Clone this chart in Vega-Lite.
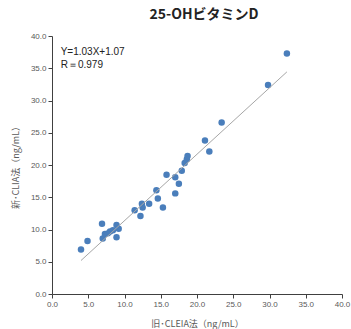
{
  "$schema": "https://vega.github.io/schema/vega-lite/v6.json",
  "width": 290,
  "height": 258,
  "autosize": "none",
  "padding": {"left": 52, "top": 36, "right": 9, "bottom": 35},
  "background": "white",
  "title": {
    "text": "25-OHビタミンD",
    "font": "Noto Sans CJK JP",
    "fontSize": 14,
    "fontWeight": "bold",
    "color": "#222222",
    "anchor": "middle",
    "dx": 7,
    "offset": 10
  },
  "config": {
    "view": {"stroke": null},
    "axis": {
      "grid": false,
      "domainColor": "#404040",
      "tickColor": "#404040",
      "tickSize": 4,
      "labelColor": "#595959",
      "labelFont": "Liberation Sans",
      "labelFontSize": 8,
      "labelOverlap": false,
      "labelFlush": false,
      "titleFont": "Noto Sans CJK JP",
      "titleFontSize": 9,
      "titleFontWeight": "normal",
      "titleColor": "#595959"
    }
  },
  "encoding": {
    "x": {"field": "old", "type": "quantitative", "scale": {"domain": [0, 40]},
          "axis": {"values": [0, 5, 10, 15, 20, 25, 30, 35, 40], "format": ".1f", "title": "旧･CLEIA法（ng/mL）", "titlePadding": 11}},
    "y": {"field": "new", "type": "quantitative", "scale": {"domain": [0, 40]},
          "axis": {"values": [0, 5, 10, 15, 20, 25, 30, 35, 40], "format": ".1f", "title": "新･CLIA法（ng/mL）", "titlePadding": 10}}
  },
  "layer": [
    {
      "data": {"values": [
        {"old": 4.0, "new": 6.9},
        {"old": 4.9, "new": 8.2},
        {"old": 6.9, "new": 10.9},
        {"old": 7.0, "new": 8.6},
        {"old": 7.3, "new": 9.3},
        {"old": 7.7, "new": 9.4},
        {"old": 8.0, "new": 9.7},
        {"old": 8.4, "new": 9.9},
        {"old": 8.9, "new": 10.7},
        {"old": 9.2, "new": 10.1},
        {"old": 8.9, "new": 8.8},
        {"old": 11.4, "new": 13.0},
        {"old": 12.2, "new": 12.1},
        {"old": 12.4, "new": 14.0},
        {"old": 12.5, "new": 13.4},
        {"old": 13.4, "new": 14.0},
        {"old": 14.4, "new": 16.1},
        {"old": 14.6, "new": 14.8},
        {"old": 15.3, "new": 13.4},
        {"old": 15.8, "new": 18.5},
        {"old": 17.0, "new": 18.1},
        {"old": 17.5, "new": 17.1},
        {"old": 17.0, "new": 15.6},
        {"old": 17.9, "new": 19.1},
        {"old": 18.3, "new": 20.3},
        {"old": 18.6, "new": 20.9},
        {"old": 18.7, "new": 21.4},
        {"old": 21.1, "new": 23.8},
        {"old": 21.7, "new": 22.1},
        {"old": 23.4, "new": 26.6},
        {"old": 29.8, "new": 32.4},
        {"old": 32.4, "new": 37.3}
      ]},
      "mark": {"type": "point", "filled": true, "opacity": 1, "size": 42, "color": "#4a7ebb"}
    },
    {
      "data": {"values": [
        {"old": 4.0, "new": 5.19},
        {"old": 32.4, "new": 34.44}
      ]},
      "mark": {"type": "line", "color": "#a6a6a6", "strokeWidth": 1}
    },
    {
      "data": {"values": [
        {"old": 1.2, "new": 37.5, "label": "Y=1.03X+1.07"},
        {"old": 1.2, "new": 35.5, "label": "R＝0.979"}
      ]},
      "mark": {"type": "text", "align": "left", "baseline": "middle", "font": "Liberation Sans", "fontSize": 10, "color": "#222222"},
      "encoding": {
        "text": {"field": "label"}
      }
    }
  ]
}
